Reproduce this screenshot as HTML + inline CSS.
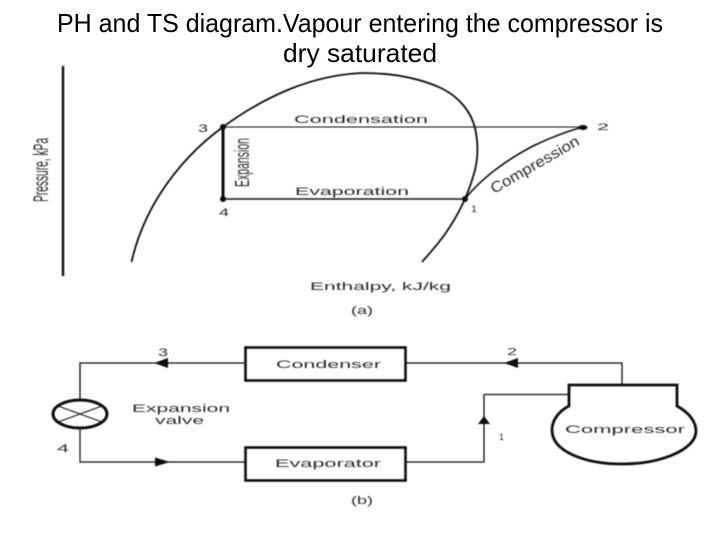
<!DOCTYPE html>
<html>
<head>
<meta charset="utf-8">
<style>
html,body{margin:0;padding:0;background:#fff;width:720px;height:540px;overflow:hidden}
svg{display:block}
text{font-family:"Liberation Sans",sans-serif;fill:#222}
.t{font-size:26px;fill:#000}
.s{font-size:11px;fill:#2a2a2a}
.l{fill:none;stroke:#111}
</style>
</head>
<body>
<svg width="720" height="540" viewBox="0 0 720 540" xmlns="http://www.w3.org/2000/svg">
<defs><filter id="b" x="-5%" y="-5%" width="110%" height="110%"><feGaussianBlur stdDeviation="0.45"/></filter></defs>
<text class="t" x="57" y="32" textLength="606" lengthAdjust="spacingAndGlyphs">PH and TS diagram.Vapour entering the compressor is</text>
<text class="t" x="283" y="62" textLength="154" lengthAdjust="spacingAndGlyphs">dry saturated</text>
<g filter="url(#b)">
<!-- PH diagram -->
<line class="l" x1="63" y1="66" x2="63" y2="276" stroke-width="2.4"/>
<path class="l" stroke-width="1.8" d="M131.5 262C137 238 146 216 160 194C178 166 198 145 223 127C246 110 268 98 290 89C315 79 338 74 362 73C392 73 420 78 443 89C460 98 471 112 475 128C479 146 478 162 473 177C466 200 455 220 445 234C438 244 430 253 422 262"/>
<line class="l" x1="223" y1="127" x2="583" y2="127" stroke="#444" stroke-width="1.1"/>
<line class="l" x1="223" y1="199" x2="465" y2="199" stroke-width="1.5"/>
<line class="l" x1="223" y1="127" x2="223" y2="199" stroke-width="3"/>
<path class="l" stroke-width="1.6" d="M465 199C482 177 510 158 533 146C552 137 568 131 583 127"/>
<circle cx="223" cy="127" r="3" fill="#111"/>
<circle cx="223" cy="199" r="3" fill="#111"/>
<circle cx="465" cy="199" r="3" fill="#111"/>
<ellipse cx="583" cy="127.500" rx="4.500" ry="2.500" fill="#111"/>
<text class="s" x="294" y="123" textLength="134" lengthAdjust="spacingAndGlyphs">Condensation</text>
<text class="s" x="295" y="195" textLength="114" lengthAdjust="spacingAndGlyphs">Evaporation</text>
<text class="s" x="198" y="132" textLength="10" lengthAdjust="spacingAndGlyphs">3</text>
<text class="s" x="219" y="216" textLength="10" lengthAdjust="spacingAndGlyphs">4</text>
<text class="s" x="597" y="130" textLength="12" lengthAdjust="spacingAndGlyphs" style="font-size:9px">2</text>
<text class="s" x="471" y="212" textLength="6" lengthAdjust="spacingAndGlyphs" style="font-size:9px">1</text>
<text class="s" transform="translate(249,187) rotate(-90)" x="0" y="0" textLength="49" lengthAdjust="spacingAndGlyphs" style="font-size:20px">Expansion</text>
<text class="s" transform="translate(48,202) rotate(-90)" x="0" y="0" textLength="64" lengthAdjust="spacingAndGlyphs" style="font-size:21px">Pressure, kPa</text>
<text class="s" transform="translate(494,194) rotate(-30)" x="0" y="0" textLength="100" lengthAdjust="spacingAndGlyphs" style="font-size:15px">Compression</text>
<text class="s" x="310" y="290" textLength="141" lengthAdjust="spacingAndGlyphs">Enthalpy, kJ/kg</text>
<text class="s" x="351" y="314" textLength="22" lengthAdjust="spacingAndGlyphs">(a)</text>
<!-- Cycle diagram -->
<path class="l" stroke-width="1.3" d="M245 363H80V400"/>
<path class="l" stroke-width="1.2" stroke="#444" d="M80 428V462H245"/>
<rect class="l" x="245.500" y="347.500" width="160" height="33" stroke-width="2.6" fill="#fff"/>
<rect class="l" x="245.500" y="447.500" width="160" height="33" stroke-width="2.6" fill="#fff"/>
<path class="l" stroke-width="1.3" d="M406 363H622V385"/>
<path class="l" stroke-width="1.3" stroke="#555" d="M406 462H484V394.500H568"/>
<ellipse class="l" cx="80" cy="414" rx="27" ry="14" stroke-width="3" fill="#fff"/>
<path class="l" stroke-width="1.1" d="M58 406L102 422M58 422L102 406"/>
<path d="M154 363L168 358V368Z" fill="#111"/>
<path d="M170 462L155 457.500V466.500Z" fill="#111"/>
<path d="M504 363L518 358V368Z" fill="#111"/>
<path d="M484 416L490 424H478Z" fill="#111"/>
<path class="l" stroke-width="2.8" fill="#fff" d="M569 406V385H677V406C688 412 696 421 696 431C696 450 660 464 622 464C586 464 552 452 552 430C552 420 559 411 569 406Z"/>
<text class="s" x="276" y="368" textLength="105" lengthAdjust="spacingAndGlyphs">Condenser</text>
<text class="s" x="275" y="467" textLength="106" lengthAdjust="spacingAndGlyphs">Evaporator</text>
<text class="s" x="565" y="433" textLength="120" lengthAdjust="spacingAndGlyphs">Compressor</text>
<text class="s" x="132" y="412" textLength="98" lengthAdjust="spacingAndGlyphs">Expansion</text>
<text class="s" x="155" y="424" textLength="49" lengthAdjust="spacingAndGlyphs">valve</text>
<text class="s" x="158" y="356" textLength="10" lengthAdjust="spacingAndGlyphs">3</text>
<text class="s" x="57" y="452" textLength="12" lengthAdjust="spacingAndGlyphs">4</text>
<text class="s" x="507" y="355" textLength="10" lengthAdjust="spacingAndGlyphs" style="font-size:10px">2</text>
<text class="s" x="499" y="440" textLength="5" lengthAdjust="spacingAndGlyphs" style="font-size:9px">1</text>
<text class="s" x="351" y="504" textLength="22" lengthAdjust="spacingAndGlyphs">(b)</text>
</g>
</svg>
</body>
</html>
